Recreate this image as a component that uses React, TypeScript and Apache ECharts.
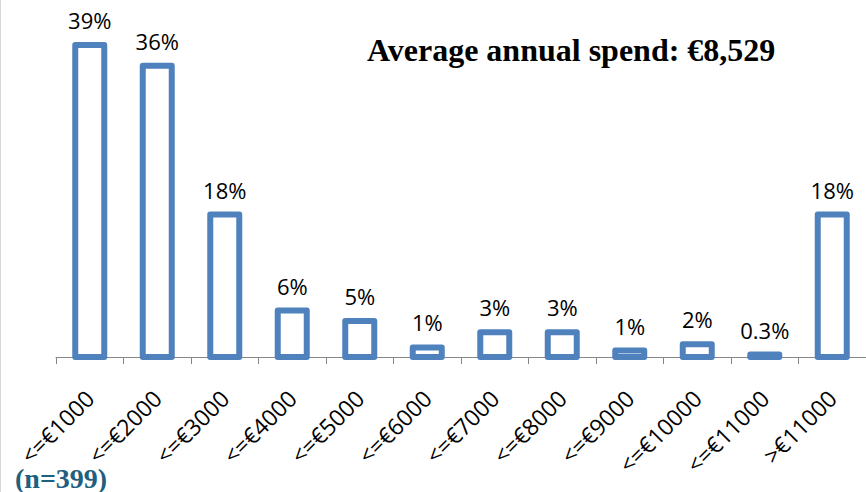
import React, { useEffect, useRef } from "react";
import * as echarts from "echarts";

const categories = [
  "<=€1000", "<=€2000", "<=€3000", "<=€4000", "<=€5000", "<=€6000",
  "<=€7000", "<=€8000", "<=€9000", "<=€10000", "<=€11000", ">€11000",
];
const values = [39, 36.4, 17.8, 5.8, 4.5, 1.2, 3.1, 3.1, 0.8, 1.6, 0.3, 17.8];
const valueLabels = ["39%", "36%", "18%", "6%", "5%", "1%", "3%", "3%", "1%", "2%", "0.3%", "18%"];
const titleText = "Average annual spend: €8,529";
const noteText = "(n=399)";

export default function App() {
  const ref = useRef<HTMLDivElement>(null);
  useEffect(() => {
    if (!ref.current) return;
    const chart = echarts.init(ref.current, null, { renderer: "svg" });
    chart.setOption({
      animation: false,
      backgroundColor: "#ffffff",
      title: [
        {
          text: titleText,
          left: 367,
          top: 34,
          padding: 0,
          textStyle: { fontSize: 32, fontWeight: "bold", fontFamily: "Liberation Serif", color: "#000" },
        },
        {
          text: noteText,
          left: 15,
          top: 466,
          padding: 0,
          textStyle: { fontSize: 28, lineHeight: 24, fontWeight: "bold", fontFamily: "Liberation Serif", color: "#1F5F80" },
        },
      ],
      graphic: [
        { type: "line", shape: { x1: 0.5, y1: 0, x2: 0.5, y2: 492 }, style: { stroke: "#d9d9d9", lineWidth: 1 } },
      ],
      grid: { left: 56, right: -5, top: 37, bottom: 135, containLabel: false },
      xAxis: {
        type: "category",
        data: categories,
        boundaryGap: true,
        axisLine: { show: true, lineStyle: { color: "#868686", width: 1 } },
        axisTick: { show: true, length: 7, alignWithLabel: false, lineStyle: { color: "#868686" } },
        axisLabel: {
          interval: 0,
          rotate: 45,
          margin: 37,
          fontSize: 23,
          fontFamily: "Open Sans",
          color: "#000",
        },
      },
      yAxis: { type: "value", min: 0, max: 40, show: false, splitLine: { show: false } },
      series: [
        {
          type: "custom",
          data: values.map((v, i) => [i, v]),
          encode: { x: 0, y: 1 },
          renderItem: (params: any, api: any) => {
            const idx = params.dataIndex;
            const v = api.value(1);
            const top = api.coord([idx, v]);
            const base = api.coord([idx, 0]);
            const w = 29;
            return {
              type: "group",
              children: [
                {
                  type: "rect",
                  shape: { x: top[0] - w / 2, y: top[1], width: w, height: base[1] - top[1] },
                  style: { fill: "#ffffff", stroke: "#4F81BD", lineWidth: 6, lineJoin: "round" },
                },
                {
                  type: "text",
                  x: top[0],
                  y: top[1] - 14,
                  style: {
                    text: valueLabels[idx],
                    fontSize: 22,
                    fontFamily: "Open Sans",
                    fill: "#000",
                    textAlign: "center",
                    textVerticalAlign: "bottom",
                  },
                },
              ],
            };
          },
        },
      ],
    });
    return () => chart.dispose();
  }, []);
  return <div ref={ref} style={{ position: "absolute", left: 0, top: 0, width: 866, height: 492 }} />;
}
